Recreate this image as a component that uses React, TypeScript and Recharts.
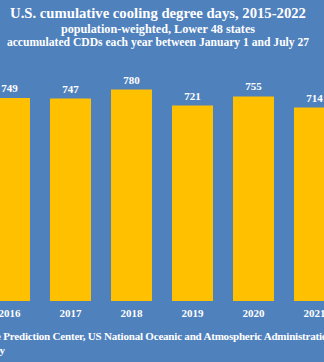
import { BarChart, Bar, XAxis, YAxis, LabelList } from 'recharts'

const years = ['2015', '2016', '2017', '2018', '2019', '2020', '2021', '2022']
const cdds = [760, 749, 747, 780, 721, 755, 714, 770]

const data = years.map((year, i) => ({ year, cdd: cdds[i] }))

const BG = '#4f81bd'
const BAR = '#ffc000'
const FONT = '"Liberation Serif", "DejaVu Serif", serif'

export default function App() {
  return (
    <div
      style={{
        position: 'fixed', top: 0, left: 0, width: 324, height: 362,
        overflow: 'hidden', background: BG, fontFamily: FONT, color: '#fff',
      }}
    >
      {/* chart is wider than the frame; only the middle is visible */}
      <div style={{ position: 'absolute', left: -82, top: 0 }}>
        <BarChart
          width={488}
          height={362}
          data={data}
          margin={{ top: 30, right: 0, left: 0, bottom: 0 }}
          barCategoryGap={10}
        >
          <XAxis
            dataKey="year"
            height={61}
            axisLine={false}
            tickLine={false}
            tick={{ fill: '#fff', fontSize: 11, fontWeight: 700, fontFamily: FONT }}
          />
          <YAxis hide domain={[0, 1000]} />
          <Bar dataKey="cdd" fill={BAR} isAnimationActive={false}>
            <LabelList
              dataKey="cdd"
              position="top"
              offset={6}
              fill="#fff"
              fontSize={11}
              fontWeight={700}
              fontFamily={FONT}
            />
          </Bar>
        </BarChart>
      </div>

      <div style={{ position: 'absolute', top: 5, left: 0, width: 316, textAlign: 'center', fontWeight: 700, whiteSpace: 'nowrap' }}>
        <div style={{ fontSize: 14.7, lineHeight: '17px' }}>U.S. cumulative cooling degree days, 2015-2022</div>
        <div style={{ fontSize: 12.2, lineHeight: '14px' }}>population-weighted, Lower 48 states</div>
        <div style={{ fontSize: 11.6, lineHeight: '13px' }}>accumulated CDDs each year between January 1 and July 27</div>
      </div>

      <div style={{ position: 'absolute', top: 329, right: -9, whiteSpace: 'nowrap', fontSize: 11, letterSpacing: -0.2, fontWeight: 700, lineHeight: '14px' }}>
        Source: Climate Prediction Center, US National Oceanic and Atmospheric Administration
      </div>
      <div style={{ position: 'absolute', top: 343, right: 319, whiteSpace: 'nowrap', fontSize: 11, fontWeight: 700, lineHeight: '14px' }}>
        Chart: U.S. Energy
      </div>
    </div>
  )
}
